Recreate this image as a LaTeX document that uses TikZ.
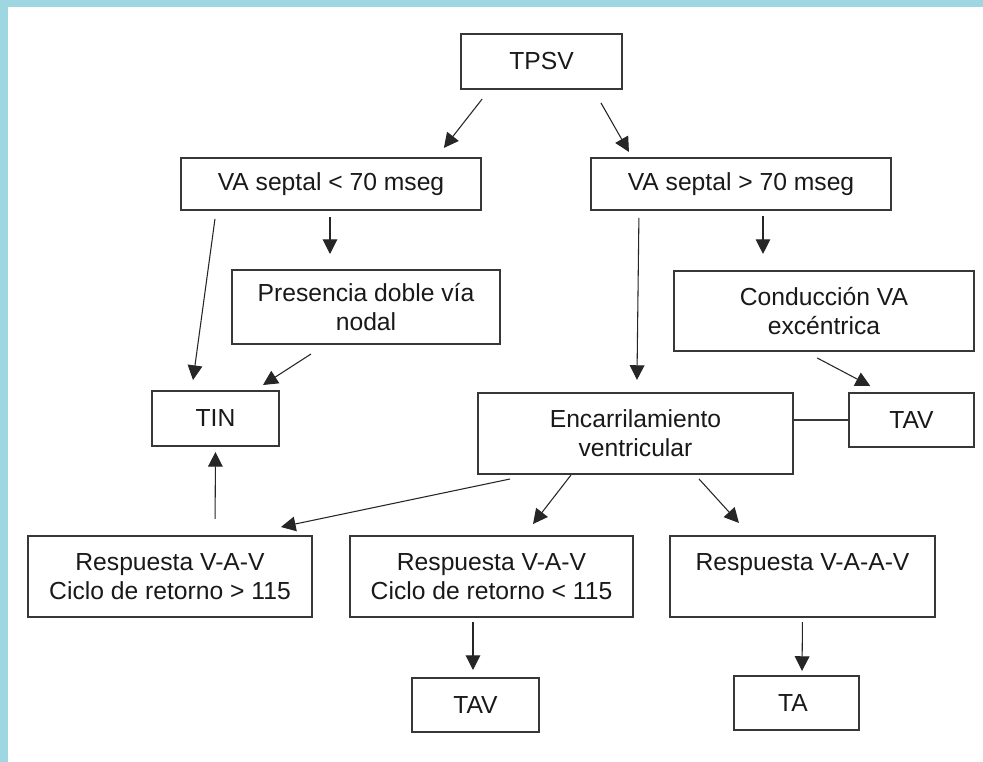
\documentclass[tikz,border=0pt]{standalone}
\usepackage{fontspec}
\setmainfont{Liberation Sans}
\usetikzlibrary{calc,arrows.meta}
\definecolor{FlowBand}{RGB}{158,214,226}
\definecolor{FlowLine}{RGB}{55,55,55}
\definecolor{FlowText}{RGB}{25,25,25}

\begin{document}
\begin{tikzpicture}[x=0.75pt,y=-0.75pt,
  box/.style={draw=FlowLine,line width=0.9pt,fill=white,align=center,inner sep=0pt,outer sep=0pt,text=FlowText,font=\fontsize{18.5}{22}\selectfont},
  arr/.style={draw=black!85,line width=0.8pt,-{Triangle[length=11pt,width=11pt]}}]
  \useasboundingbox (0,0) rectangle (983,762);
  \fill[FlowBand] (0,0) rectangle (983,762);
  \fill[white] (8,7) rectangle (983,762);
  % boxes: name / centre / width / height / text
  \foreach \n/\x/\y/\w/\h/\t in {
    tpsv/541.5/61.5/161/55/{TPSV},
    vaMenor/331/184/300/52/{VA septal < 70 mseg},
    vaMayor/741/184/300/52/{VA septal > 70 mseg},
    dobleVia/366/307/268/74/{Presencia doble vía\\nodal},
    conduccion/824/311/300/80/{Conducción VA\\excéntrica},
    tin/215.5/418.5/127/55/{TIN},
    encarril/635.5/433.5/315/81/{Encarrilamiento\\ventricular},
    tavDer/911.5/420/125/54/{TAV},
    respMayor/170/576.5/284/81/{Respuesta V-A-V\\Ciclo de retorno > 115},
    respMenor/491.5/576.5/283/81/{Respuesta V-A-V\\Ciclo de retorno < 115},
    respAAV/802.5/576.5/265/81/{Respuesta V-A-A-V\\\mbox{}},
    tavInf/475.5/705/127/54/{TAV},
    ta/796.5/703/125/54/{TA}
  } {
    \node[box,minimum width=\w*0.75pt,minimum height=\h*0.75pt] (\n) at (\x,\y) {\t};
  }
  % arrows, with a gap at both ends
  \foreach \a/\da/\b/\db/\s/\e in {
    tpsv.south/-51.5/vaMenor.north/105/9.6pt/9.6pt,
    tpsv.south/51.5/vaMayor.north/-108.6/12pt/5.2pt,
    vaMenor.south/-114.8/tin.north/-24/6.8pt/8.3pt,
    vaMenor.south/-1/dobleVia.north/-36/5.3pt/12pt,
    dobleVia.south/-39.5/tin.north/38.2/13.8pt/8.3pt,
    vaMayor.south/-102/encarril.north/1.3/6pt/9.8pt,
    vaMayor.south/22/conduccion.north/-61/4.5pt/12.8pt,
    conduccion.south/-20/tavDer.north/-28/11.2pt/11.2pt,
    encarril.south/-101.6/respMayor.north/68/18.3pt/32.9pt,
    encarril.south/-63.7/respMenor.north/32.2/1pt/11.4pt,
    encarril.south/59/respAAV.north/-51.7/5pt/13.2pt,
    respMayor.north/45/tin.south/0/12.8pt/4.5pt,
    respMenor.south/-18.5/tavInf.north/-2.5/3.8pt/6pt,
    respAAV.south/0/ta.north/5.5/3.8pt/3.8pt
  } {
    \draw[arr,shorten <=\s,shorten >=\e] ($(\a)+(\da,0)$) -- ($(\b)+(\db,0)$);
  }
  \draw[FlowLine,line width=0.8pt] (tavDer.west) -- (tavDer.west -| encarril.east);
\end{tikzpicture}
\end{document}
